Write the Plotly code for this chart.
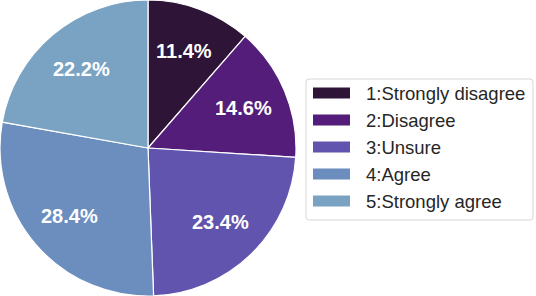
import math
import plotly.graph_objects as go

labels = ["1:Strongly disagree", "2:Disagree", "3:Unsure", "4:Agree", "5:Strongly agree"]
values = [11.4, 14.6, 23.4, 28.4, 22.2]
colors = ["#2e1538", "#541d7a", "#6154ae", "#6b8ebf", "#7aa3c3"]

W, H = 536, 296
cx, cy, R = 148, 148, 148

fig = go.Figure()
fig.add_trace(go.Pie(
    labels=labels, values=values, sort=False, direction="clockwise", rotation=0,
    marker=dict(colors=colors, line=dict(color="white", width=1.2)),
    textinfo="none", hoverinfo="label+percent", showlegend=False,
    domain=dict(x=[(cx - R) / W, (cx + R) / W], y=[0, 1]),
))

# percentage labels at 0.7 radius, placed from the data
total = sum(values)
cum = 0
ann = []
for v in values:
    mid = (cum + v / 2) / total * 2 * math.pi
    cum += v
    px = cx + 0.7 * R * math.sin(mid)
    py = cy - 0.7 * R * math.cos(mid)
    ann.append(dict(x=px / W, y=1 - py / H, xref="paper", yref="paper",
                    text=f"<b>{v / total * 100:.1f}%</b>", showarrow=False,
                    font=dict(family="Liberation Sans, Arial", size=20, color="white"),
                    xanchor="center", yanchor="middle"))

# custom legend
shapes = []
bx0, bx1, by0, by1 = 306, 533, 79, 220
r = 3
def P(x, y):
    return f"{x / W:.5f},{1 - y / H:.5f}"
path = (f"M{P(bx0 + r, by0)} L{P(bx1 - r, by0)} Q{P(bx1, by0)} {P(bx1, by0 + r)} "
        f"L{P(bx1, by1 - r)} Q{P(bx1, by1)} {P(bx1 - r, by1)} L{P(bx0 + r, by1)} "
        f"Q{P(bx0, by1)} {P(bx0, by1 - r)} L{P(bx0, by0 + r)} Q{P(bx0, by0)} {P(bx0 + r, by0)} Z")
shapes.append(dict(type="path", xref="paper", yref="paper", path=path,
                   line=dict(color="#d6d6d6", width=1), fillcolor="white"))
row0, dy = 93, 27
for i, (lab, col) in enumerate(zip(labels, colors)):
    yc = row0 + i * dy
    shapes.append(dict(type="rect", xref="paper", yref="paper",
                       x0=313 / W, x1=350 / W, y0=1 - (yc - 5.5) / H, y1=1 - (yc + 5.5) / H,
                       fillcolor=col, line=dict(width=0)))
    ann.append(dict(x=364 / W, y=1 - yc / H, xref="paper", yref="paper", text=lab,
                    showarrow=False, xanchor="left", yanchor="middle",
                    font=dict(family="Liberation Sans, Arial", size=18.5, color="#262626")))

fig.update_layout(
    width=W, height=H, margin=dict(l=0, r=0, t=0, b=0),
    paper_bgcolor="white", plot_bgcolor="white",
    annotations=ann, shapes=shapes,
)
fig.write_html("out.html", config={"displayModeBar": False},
               post_script="document.body.style.margin='0';document.body.style.overflow='hidden';")
